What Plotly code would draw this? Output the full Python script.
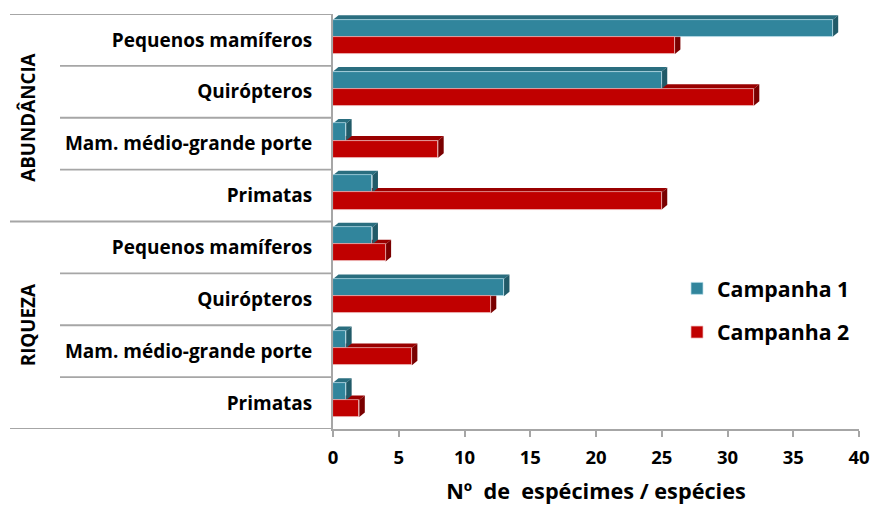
import plotly.graph_objects as go

# Categories (top to bottom) and their groups
categories = ["Pequenos mamíferos", "Quirópteros", "Mam. médio-grande porte", "Primatas",
              "Pequenos mamíferos", "Quirópteros", "Mam. médio-grande porte", "Primatas"]
groups = ["ABUNDÂNCIA", "RIQUEZA"]
group_size = 4

campanha_1 = [38, 25, 1, 3, 3, 13, 1, 1]
campanha_2 = [26, 32, 8, 25, 4, 12, 6, 2]

x_ticks = [0, 5, 10, 15, 20, 25, 30, 35, 40]

W, H = 872, 506
M_L, M_R, M_T, M_B = 333, 13, 14, 77
plot_w = W - M_L - M_R
plot_h = H - M_T - M_B
n = len(categories)
px_x = plot_w / 40.0          # pixels per x unit
px_y = plot_h / n             # pixels per category

DEPTH_X = 5.5 / px_x          # 3D depth shift, in data units
DEPTH_Y = 4.5 / px_y

FONT = "Open Sans"

BAR_W = 0.33
series = [
    dict(name="Campanha 1", values=campanha_1, offset=-0.39, front="#31859C",
         top="#2A6E7F", side="#215A68", edge="rgba(190,225,235,0.9)"),
    dict(name="Campanha 2", values=campanha_2, offset=-0.06, front="#C00000",
         top="#990000", side="#7A0000", edge="rgba(240,190,190,0.9)"),
]

ypos = list(range(n))
fig = go.Figure()
for s in series:
    fig.add_trace(go.Bar(
        x=s["values"], y=ypos, orientation="h", name=s["name"],
        width=BAR_W, offset=s["offset"],
        marker=dict(color=s["front"], line=dict(color=s["edge"], width=0.8)),
        legendgroup=s["name"],
    ))

# Depth faces (top and right side) of each bar; lower series first so the
# upper series covers it
shapes = []
for s in reversed(series):
    for yi, v in zip(ypos, s["values"]):
        y0 = yi + s["offset"]
        y1 = y0 + BAR_W
        top = (f"M 0,{y0} L {v},{y0} L {v + DEPTH_X},{y0 - DEPTH_Y} "
               f"L {DEPTH_X},{y0 - DEPTH_Y} Z")
        side = (f"M {v},{y0} L {v + DEPTH_X},{y0 - DEPTH_Y} "
                f"L {v + DEPTH_X},{y1 - DEPTH_Y} L {v},{y1} Z")
        shapes.append(dict(type="path", path=top, xref="x", yref="y",
                           fillcolor=s["top"], line=dict(width=0), layer="below"))
        shapes.append(dict(type="path", path=side, xref="x", yref="y",
                           fillcolor=s["side"], line=dict(width=0), layer="below"))

# Two-level category axis dividers
LINE_C = "#A6A6A6"
x_outer = (10 - M_L) / plot_w
x_inner = (60 - M_L) / plot_w
for k in range(n + 1):
    yb = k - 0.5
    x_start = x_outer if k % group_size == 0 else x_inner
    shapes.append(dict(type="line", xref="paper", yref="y", x0=x_start, x1=0,
                       y0=yb, y1=yb, line=dict(color=LINE_C, width=1.8),
                       layer="above"))

annotations = []
for g, name in enumerate(groups):
    yc = g * group_size + (group_size - 1) / 2
    annotations.append(dict(
        text=name, xref="paper", yref="y", x=(28 - M_L) / plot_w, y=yc,
        showarrow=False, textangle=-90, xanchor="center", yanchor="middle",
        font=dict(family=FONT, size=18.8, color="#000000", weight="bold"),
    ))

fig.update_layout(
    width=W, height=H,
    margin=dict(l=M_L, r=M_R, t=M_T, b=M_B, autoexpand=False),
    paper_bgcolor="white", plot_bgcolor="white",
    barmode="overlay", bargap=0,
    shapes=shapes, annotations=annotations,
    font=dict(family=FONT, color="#000000"),
    legend=dict(
        x=(677 - M_L) / plot_w, y=(M_T + plot_h - 268) / plot_h,
        xanchor="left", yanchor="top",
        font=dict(family=FONT, size=21.3, color="#000000", weight="bold"),
        traceorder="grouped", tracegroupgap=13,
        bgcolor="rgba(0,0,0,0)",
    ),
    xaxis=dict(
        range=[0, 40], tickvals=x_ticks, showgrid=False, zeroline=False,
        automargin=False,
        showline=True, linecolor=LINE_C, linewidth=1.8,
        ticks="outside", ticklen=6, tickcolor=LINE_C, tickwidth=1.8,
        ticklabelstandoff=5,
        tickfont=dict(family=FONT, size=18.5, color="#000000", weight="bold"),
        title=dict(text="Nº  de  espécimes / espécies", standoff=16,
                   font=dict(family=FONT, size=21.7, color="#000000", weight="bold")),
    ),
    yaxis=dict(
        range=[n - 0.5, -0.5], tickvals=ypos, ticktext=categories,
        automargin=False,
        showgrid=False, zeroline=False, showline=True, linecolor=LINE_C,
        linewidth=1.8, ticks="", ticklabelstandoff=15,
        tickfont=dict(family=FONT, size=19, color="#000000", weight="bold"),
    ),
)

fig.write_html("out.html")
